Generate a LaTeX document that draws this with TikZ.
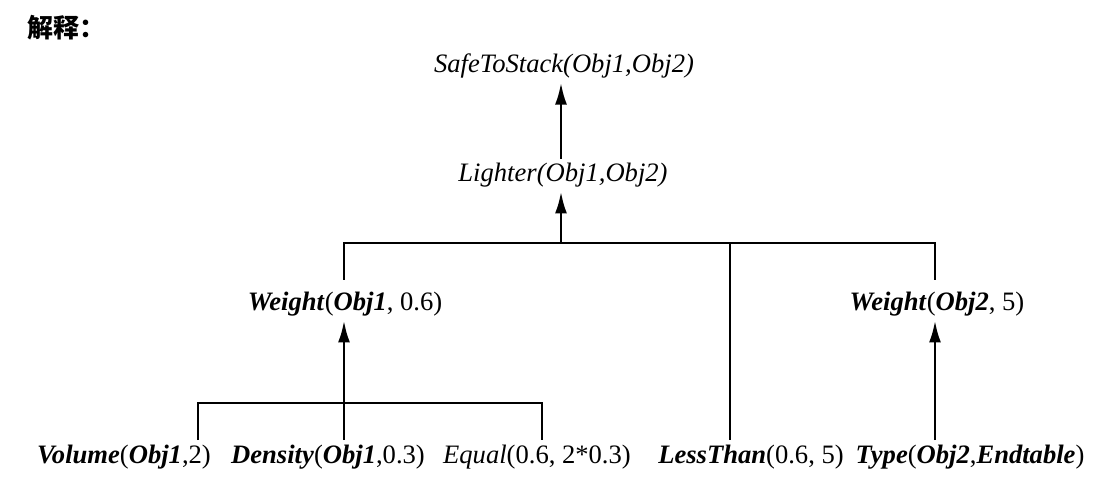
\documentclass[tikz,border=0pt]{standalone}
\usepackage{fontspec}
\setmainfont{Liberation Serif}
\newfontfamily\cjkfont{Noto Sans CJK SC}
\usetikzlibrary{arrows.meta}

\tikzset{
    term/.style={inner sep=2pt, font=\fontsize{13.3}{15}\selectfont},
    leaf/.style={term, anchor=base},
    link/.style={line width=1.4pt},
    up/.style={link, -{Latex[length=11pt,width=6pt]}},
}
\newcommand{\pred}[1]{\textbf{\textit{#1}}}

\begin{document}
\begin{tikzpicture}[x=0.5pt,y=-0.5pt]
    \useasboundingbox (0,0) rectangle (1098,495);
    \node[anchor=west, inner sep=0pt, font=\cjkfont\bfseries\fontsize{13}{15}\selectfont] (head) at (27,28) {解释：};
    % goal and its parents
    \node[term] (safe) at (564,66) {\textit{SafeToStack(Obj1,Obj2)}};
	\node[term] (light) at (563,175) {\textit{Lighter(Obj1,Obj2)}};
	\node[term] (wone) at (345,304) {\pred{Weight}(\pred{Obj1}, 0.6)};
    \node[term] (wtwo) at (937,304) {\pred{Weight}(\pred{Obj2}, 5)};
    % leaves
	\node[leaf] (vol) at (124,463) {\pred{Volume}(\pred{Obj1},2)};
	\node[leaf] (dens) at (328,463) {\pred{Density}(\pred{Obj1},0.3)};
	\node[leaf] (eq) at (537,463) {\textit{Equal}(0.6, 2*0.3)};
	\node[leaf] (less) at (751,463) {\pred{LessThan}(0.6, 5)};
    \node[leaf] (type) at (970,463) {\pred{Type}(\pred{Obj2},\pred{Endtable})};
    % branch points
    \coordinate (jtop) at (561,243);
    \coordinate (jless) at (730,243);
    \coordinate (jlow) at (344,403);
    \coordinate (bl) at (198,403);
    \coordinate (br) at (542,403);
    \coordinate (jtype) at (935,403);
    \draw[up] (light.north -| jtop) -- (safe.south -| jtop);
    \draw[up] (jtop) -- (jtop |- light.south);
    \draw[link, shorten <=4pt, shorten >=4pt] (wone.north -| jlow) |- (jtop) -| (wtwo.north -| jtype);
    \draw[link] (jless) -- (jless |- less.north);
    \draw[link] (bl |- vol.north) -- (bl) -- (br) -- (br |- eq.north);
    \draw[up] (jlow |- dens.north) -- (jlow |- wone.south);
    \draw[up] (jtype |- type.north) -- (jtype |- wtwo.south);
\end{tikzpicture}
\end{document}
